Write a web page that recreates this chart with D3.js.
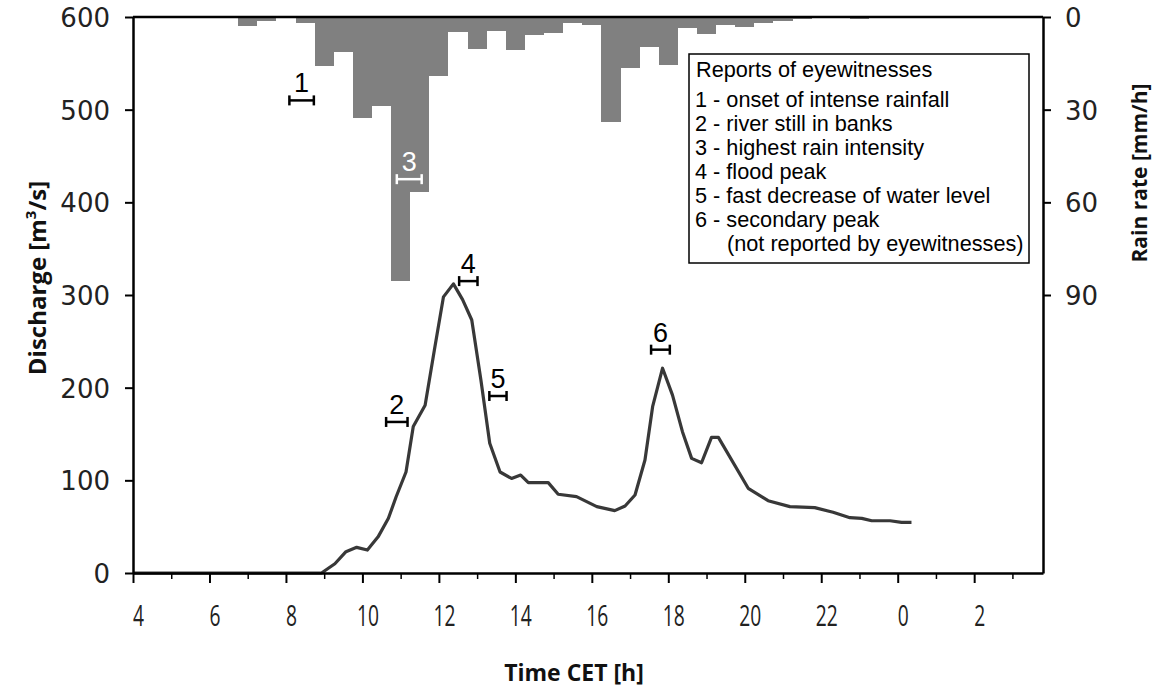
<!DOCTYPE html>
<html>
<head>
<meta charset="utf-8">
<script src="https://cdn.jsdelivr.net/npm/d3@7/dist/d3.min.js"></script>
<style>
  html, body { margin: 0; padding: 0; background: #fff; }
  svg { display: block; }
</style>
</head>
<body>
<svg id="chart" width="1169" height="693"></svg>
<script>
// Discharge hydrograph (decimal hours CET, continuing past midnight as 24+)
const dischargeTime = [4, 8.93, 9.28, 9.57, 9.85, 10.13, 10.41, 10.68, 10.88, 11.14, 11.33, 11.64, 11.88,
  12.12, 12.38, 12.62, 12.86, 13.1, 13.33, 13.6, 13.9, 14.14, 14.34, 14.86, 15.12, 15.6, 16.13, 16.6,
  16.87, 17.13, 17.39, 17.59, 17.85, 18.11, 18.37, 18.61, 18.87, 19.13, 19.31, 20.09, 20.61, 21.18,
  21.83, 22.31, 22.75, 23.06, 23.32, 23.8, 24.1, 24.36];
const dischargeValue = [0, 0, 10, 23, 27.7, 24.8, 39, 59, 82, 109, 158, 181, 240,
  298, 312, 295, 273, 208, 140, 109, 102, 105.7, 97.5, 97.5, 85, 82.4, 71.6, 67.3,
  72.3, 84.2, 122, 179.5, 221, 192, 152.5, 123.7, 119, 146.4, 146.4, 91.4, 78, 71.6,
  70.5, 65.5, 59.7, 59, 56.4, 56.4, 54.7, 54.7];

// Half-hourly rain rate (bar centre time, mm/h)
const rainTime = [7, 7.5, 8, 8.5, 9, 9.5, 10, 10.5, 11, 11.5, 12, 12.5, 13, 13.5, 14, 14.5, 15, 15.5,
  16, 16.5, 17, 17.5, 18, 18.5, 19, 19.5, 20, 20.5, 21, 21.5, 22, 22.5, 23, 23.5];
const rainRate = [2.9, 1.2, 0.4, 1.8, 15.8, 11.4, 32.8, 28.8, 85.4, 56.5, 19.1, 4.7, 10.5, 4.4, 10.7, 5.8, 5.1, 2.0,
  2.6, 33.9, 16.6, 9.6, 15.5, 3.7, 5.6, 2.6, 3.1, 1.8, 1.2, 0.6, 0.4, 0.3, 0.6, 0.2];

// Eyewitness report intervals (time span and discharge level of the marker)
const reportId = ["1", "2", "3", "4", "5", "6"];
const reportFrom = [8.09, 10.62, 10.9, 12.53, 13.32, 17.55];
const reportTo = [8.73, 11.18, 11.55, 13.01, 13.77, 18.04];
const reportLevel = [510, 163, 425, 315, 191, 241];

const legendTitle = "Reports of eyewitnesses";
const legendLines = [
  "1 - onset of intense rainfall",
  "2 - river still in banks",
  "3 - highest rain intensity",
  "4 - flood peak",
  "5 - fast decrease of water level",
  "6 - secondary peak",
  "(not reported by eyewitnesses)"
];
const legendIndent = [0, 0, 0, 0, 0, 0, 1];

const timeMajorTicks = [4, 6, 8, 10, 12, 14, 16, 18, 20, 22, 24, 26];
const timeMinorTicks = [5, 7, 9, 11, 13, 15, 17, 19, 21, 23, 25, 27];
const dischargeTicks = [0, 100, 200, 300, 400, 500, 600];
const rainTicks = [0, 30, 60, 90];

const svg = d3.select("#chart");
const plotLeft = 133, plotRight = 1043, plotTop = 17, plotBottom = 573;

const x = d3.scaleLinear().domain([4, 27.8]).range([plotLeft, plotRight]);
const yQ = d3.scaleLinear().domain([0, 600]).range([plotBottom, plotTop]);
const yR = d3.scaleLinear().domain([0, 180]).range([plotTop, plotBottom]);

const axisFont = "'Open Sans', 'DejaVu Sans', sans-serif";
const tickFont = "'DejaVu Sans', sans-serif";
const textFont = "'Liberation Sans', Arial, sans-serif";

// rain bars hanging from the top
const halfBar = 0.25;
svg.append("g").selectAll("rect")
  .data(rainTime.map((t, i) => ({ t, r: rainRate[i] })))
  .join("rect")
  .attr("x", d => x(d.t - halfBar))
  .attr("width", d => x(d.t + halfBar) - x(d.t - halfBar))
  .attr("y", yR(0))
  .attr("height", d => yR(d.r) - yR(0))
  .attr("fill", "#808080")
  .attr("shape-rendering", "crispEdges");

// discharge line
const line = d3.line().x(d => x(d.t)).y(d => yQ(d.q));
svg.append("path")
  .datum(dischargeTime.map((t, i) => ({ t, q: dischargeValue[i] })))
  .attr("d", line)
  .attr("fill", "none")
  .attr("stroke", "#383838")
  .attr("stroke-width", 3.2)
  .attr("stroke-linejoin", "round");

// axes
function styleAxis(g) {
  g.selectAll(".domain").attr("stroke", "#000").attr("stroke-width", 2.5);
  g.selectAll(".tick line").attr("stroke", "#000").attr("stroke-width", 2);
  g.selectAll(".tick text").attr("fill", "#222").attr("font-family", tickFont);
}

const gLeft = svg.append("g").attr("transform", `translate(${plotLeft},0)`)
  .call(d3.axisLeft(yQ).tickValues(dischargeTicks).tickSize(8).tickSizeOuter(0).tickPadding(15));
styleAxis(gLeft);
gLeft.selectAll(".tick text").attr("font-size", 26).attr("dy", "0.36em");

const gRight = svg.append("g").attr("transform", `translate(${plotRight},0)`)
  .call(d3.axisRight(yR).tickValues(rainTicks).tickSize(8).tickSizeOuter(0).tickPadding(14));
styleAxis(gRight);
gRight.selectAll(".tick text").attr("font-size", 26).attr("dy", "0.36em");

const gBottom = svg.append("g").attr("transform", `translate(0,${plotBottom})`)
  .call(d3.axisBottom(x).tickValues(timeMajorTicks).tickSize(10).tickSizeOuter(0)
    .tickFormat(h => String(h % 24)));
styleAxis(gBottom);
gBottom.selectAll(".tick text")
  .attr("font-family", axisFont)
  .attr("font-size", 26)
  .attr("y", 0)
  .attr("dy", 0)
  .attr("transform", "translate(5,53) scale(0.74,1.15)");

svg.append("g").attr("transform", `translate(0,${plotBottom})`)
  .call(d3.axisBottom(x).tickValues(timeMinorTicks).tickSize(6).tickSizeOuter(0).tickFormat(""))
  .call(g => g.select(".domain").remove())
  .selectAll(".tick line").attr("stroke", "#000").attr("stroke-width", 1.5);

// frame top edge
svg.append("line")
  .attr("x1", plotLeft).attr("x2", plotRight).attr("y1", plotTop).attr("y2", plotTop)
  .attr("stroke", "#000").attr("stroke-width", 2.5);

// axis titles
svg.append("text")
  .attr("transform", `translate(46,278) rotate(-90)`)
  .attr("text-anchor", "middle")
  .attr("font-family", axisFont).attr("font-weight", "bold").attr("font-size", 24)
  .attr("fill", "#111")
  .call(t => {
    t.append("tspan").text("Discharge [m");
    t.append("tspan").attr("baseline-shift", "super").attr("font-size", 15).text("3");
    t.append("tspan").text("/s]");
  });

svg.append("text")
  .attr("transform", `translate(1147,173) rotate(-90)`)
  .attr("text-anchor", "middle")
  .attr("font-family", axisFont).attr("font-weight", "bold").attr("font-size", 21)
  .attr("fill", "#111")
  .text("Rain rate [mm/h]");

svg.append("text")
  .attr("x", 574).attr("y", 681)
  .attr("text-anchor", "middle")
  .attr("font-family", axisFont).attr("font-weight", "bold").attr("font-size", 23)
  .attr("fill", "#111")
  .text("Time CET [h]");

// eyewitness interval markers
const reports = reportId.map((id, i) => ({ id, a: reportFrom[i], b: reportTo[i], q: reportLevel[i] }));
const gRep = svg.append("g");
reports.forEach(d => {
  const col = d.id === "3" ? "#fff" : "#000";
  const yy = yQ(d.q), x0 = x(d.a), x1 = x(d.b);
  const g = gRep.append("g").attr("stroke", col).attr("stroke-width", 2.5);
  g.append("line").attr("x1", x0).attr("x2", x1).attr("y1", yy).attr("y2", yy);
  g.append("line").attr("x1", x0).attr("x2", x0).attr("y1", yy - 5).attr("y2", yy + 5);
  g.append("line").attr("x1", x1).attr("x2", x1).attr("y1", yy - 5).attr("y2", yy + 5);
  gRep.append("text")
    .attr("x", (x0 + x1) / 2).attr("y", yy - 8)
    .attr("text-anchor", "middle")
    .attr("font-family", textFont).attr("font-size", 27)
    .attr("fill", col)
    .text(d.id);
});

// legend box
const lg = svg.append("g");
lg.append("rect")
  .attr("x", 689).attr("y", 54).attr("width", 340).attr("height", 209)
  .attr("fill", "#fff").attr("stroke", "#000").attr("stroke-width", 1.5);
lg.append("text")
  .attr("x", 696).attr("y", 77)
  .attr("font-family", textFont).attr("font-size", 21.7).attr("fill", "#000")
  .text(legendTitle);
lg.selectAll("text.row")
  .data(legendLines)
  .join("text")
  .attr("class", "row")
  .attr("x", (d, i) => legendIndent[i] ? 727 : 695)
  .attr("y", (d, i) => 106.5 + i * 24)
  .attr("font-family", textFont).attr("font-size", 21.7).attr("fill", "#000")
  .text(d => d);
</script>
</body>
</html>
